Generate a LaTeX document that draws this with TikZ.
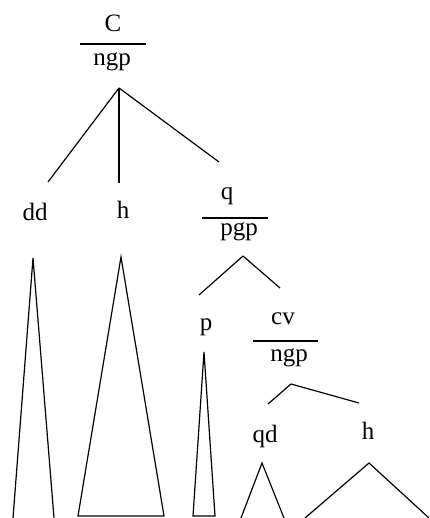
\documentclass[tikz,border=0pt]{standalone}
\usepackage{fontspec}
\setmainfont{Liberation Serif}
\begin{document}
\begin{tikzpicture}[x=1pt,y=-1pt]
	% Styles (MODIFIABLES)
	\tikzstyle{branche}=[-,line width=1.2pt]
	\tikzstyle{barre}=[-,line width=1.3pt]
	\tikzstyle{etiquette}=[inner sep=0pt,font=\fontsize{25}{30}\selectfont]
	\tikzstyle{triangle}=[line width=1.2pt,line join=miter]
	% Cadre
	\useasboundingbox (0,0) rectangle (429,518);
	% Noeuds
	\node[etiquette] (C) at (113,23) {C};
	\node[etiquette] (ngpA) at (112,62) {ngp};
	\node[etiquette] (dd) at (35,212) {dd};
	\node[etiquette] (hA) at (123,210) {h};
	\node[etiquette] (q) at (227,196) {q};
	\node[etiquette] (pgp) at (239,232) {pgp};
	\node[etiquette] (p) at (206,327) {p};
	\node[etiquette] (cv) at (283,319) {cv};
	\node[etiquette] (ngpB) at (289,358) {ngp};
	\node[etiquette] (qd) at (265,436) {qd};
	\node[etiquette] (hB) at (368,431) {h};
	% Barres de fraction
	\coordinate (barreAg) at (80,44);
	\coordinate (barreAd) at (146,44);
	\coordinate (barreBg) at (202,218);
	\coordinate (barreBd) at (268,218);
	\coordinate (barreCg) at (253,341);
	\coordinate (barreCd) at (318,341);
	\draw[barre] (barreAg)--(barreAd);
	\draw[barre] (barreBg)--(barreBd);
	\draw[barre] (barreCg)--(barreCd);
	% Sommets et extremites des branches
	\coordinate (sA) at (119,88);
	\coordinate (sAa) at (48,182);
	\coordinate (sAb) at (119,183);
	\coordinate (sAc) at (219,162);
	\coordinate (sB) at (243,256);
	\coordinate (sBa) at (199,295);
	\coordinate (sBb) at (280,288);
	\coordinate (sC) at (291,384);
	\coordinate (sCa) at (268,404);
	\coordinate (sCb) at (359,403);
	% Arcs
	\draw[branche] (sA)--(sAa);
	\draw[branche] (sA)--(sAb);
	\draw[branche] (sA)--(sAc);
	\draw[branche] (sB)--(sBa);
	\draw[branche] (sB)--(sBb);
	\draw[branche] (sC)--(sCa);
	\draw[branche] (sC)--(sCb);
	% Triangles
	\draw[triangle] (13,518)--(33,258)--(54,518);
	\draw[triangle] (78,516)--(121,257)--(164,516)--cycle;
	\draw[triangle] (193,516)--(204,352)--(215,516)--cycle;
	\draw[triangle] (241,518)--(262,463)--(284,518);
	\draw[triangle] (305,518)--(369,463)--(429,518);
\end{tikzpicture}
\end{document}
